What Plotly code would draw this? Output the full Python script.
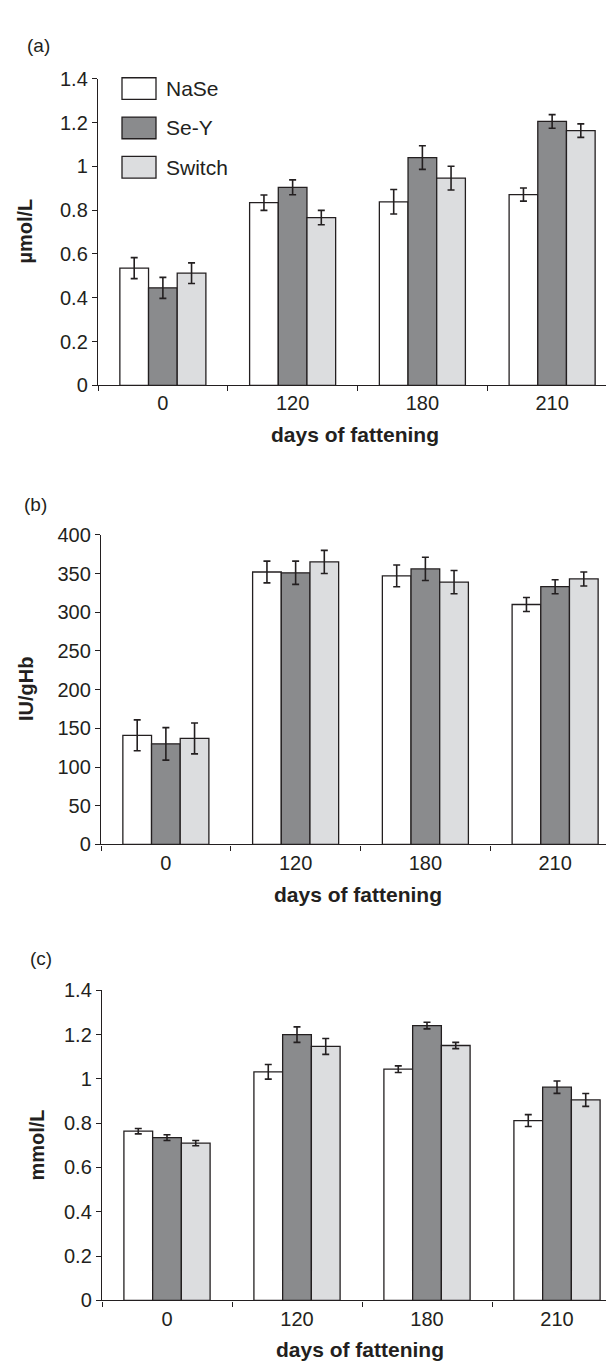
import plotly.graph_objects as go

W, H = 614, 1365

days = ["0", "120", "180", "210"]
groups = ["NaSe", "Se-Y", "Switch"]

# Panel (a) µmol/L
a_nase = [0.535, 0.834, 0.838, 0.871]
a_sey = [0.445, 0.904, 1.040, 1.205]
a_switch = [0.512, 0.766, 0.946, 1.163]
a_nase_err = [0.048, 0.035, 0.056, 0.030]
a_sey_err = [0.048, 0.034, 0.054, 0.031]
a_switch_err = [0.047, 0.033, 0.054, 0.031]

# Panel (b) IU/gHb
b_nase = [141, 352, 347, 310]
b_sey = [130, 351, 356, 333]
b_switch = [137, 365, 339, 343]
b_nase_err = [20, 14, 14, 9]
b_sey_err = [21, 15, 15, 9]
b_switch_err = [20, 15, 15, 9]

# Panel (c) mmol/L
c_nase = [0.764, 1.032, 1.044, 0.812]
c_sey = [0.735, 1.200, 1.241, 0.963]
c_switch = [0.710, 1.147, 1.151, 0.905]
c_nase_err = [0.012, 0.033, 0.015, 0.027]
c_sey_err = [0.013, 0.035, 0.015, 0.028]
c_switch_err = [0.012, 0.036, 0.014, 0.029]

fills = {"NaSe": "#ffffff", "Se-Y": "#8a8b8d", "Switch": "#dcdddf"}
INK = "#231f20"
FONT = "Liberation Sans, Arial, sans-serif"

panels = [
    ("", [a_nase, a_sey, a_switch], [a_nase_err, a_sey_err, a_switch_err]),
    ("2", [b_nase, b_sey, b_switch], [b_nase_err, b_sey_err, b_switch_err]),
    ("3", [c_nase, c_sey, c_switch], [c_nase_err, c_sey_err, c_switch_err]),
]

fig = go.Figure()
for suf, vals, errs in panels:
    for g, v, e in zip(groups, vals, errs):
        fig.add_trace(go.Bar(
            x=days, y=v, name=g,
            xaxis="x" + suf, yaxis="y" + suf,
            marker=dict(color=fills[g], line=dict(color=INK, width=1.3)),
            error_y=dict(type="data", array=e, visible=True,
                         color=INK, thickness=1.6, width=3.5),
            showlegend=False,
        ))

def px_x(p):
    return p / W

def px_y(p):
    return 1 - p / H

tickfont = dict(family=FONT, size=20, color=INK)

def xax(x0, x1):
    return dict(domain=[px_x(x0), px_x(x1)], type="category",
                showline=True, linecolor=INK, linewidth=1.4,
                ticks="outside", ticklen=5, tickwidth=1.4, tickcolor=INK,
                tickson="boundaries", showgrid=False, zeroline=False,
                tickfont=tickfont, fixedrange=True)

def yax(y0, y1, rng, dt):
    return dict(domain=[px_y(y1), px_y(y0)], range=rng, dtick=dt,
                showline=True, linecolor=INK, linewidth=1.4,
                ticks="outside", ticklen=5, tickwidth=1.4, tickcolor=INK,
                showgrid=False, zeroline=False, tickfont=tickfont,
                fixedrange=True)

xa = xax(90, 609); xa["anchor"] = "y"
xb = xax(93, 612); xb["anchor"] = "y2"
xc = xax(94, 614); xc["anchor"] = "y3"
ya = yax(60.7, 372.3, [0, 1.4], 0.2); ya["anchor"] = "x"
yb = yax(524.3, 839, [0, 400], 50); yb["anchor"] = "x2"
yc = yax(987.3, 1302.3, [0, 1.4], 0.2); yc["anchor"] = "x3"

annotations = []

def ann(text, x, y, size=20, bold=False, angle=0, xanchor="center"):
    annotations.append(dict(
        text=("<b>%s</b>" % text) if bold else text,
        x=px_x(x), y=px_y(y), xref="paper", yref="paper",
        xanchor=xanchor, yanchor="middle", showarrow=False,
        textangle=angle, font=dict(family=FONT, size=size, color=INK)))

ann("(a)", 30, 27, size=19)
ann("(b)", 27, 493, size=19)
ann("(c)", 33, 955, size=19)
ann("µmol/L", 17, 216, bold=True, angle=-90)
ann("IU/gHb", 18, 681, bold=True, angle=-90)
ann("mmol/L", 29, 1145, bold=True, angle=-90)
ann("days of fattening", 347, 422, bold=True, size=21)
ann("days of fattening", 350, 890, bold=True, size=21)
ann("days of fattening", 352, 1352, bold=True, size=21)

shapes = []
for i, g in enumerate(groups):
    cy = 70.7 + 40 * i
    shapes.append(dict(type="rect", xref="paper", yref="paper",
                       x0=px_x(114), x1=px_x(148),
                       y0=px_y(cy + 11), y1=px_y(cy - 11),
                       fillcolor=fills[g], line=dict(color=INK, width=1.3)))
    ann(g, 156, cy, size=21, xanchor="left")

fig.update_layout(
    width=W, height=H,
    margin=dict(l=0, r=0, t=0, b=0),
    paper_bgcolor="white", plot_bgcolor="white",
    barmode="group", bargap=0.337, bargroupgap=0,
    xaxis=xa, xaxis2=xb, xaxis3=xc,
    yaxis=ya, yaxis2=yb, yaxis3=yc,
    annotations=annotations, shapes=shapes,
    font=dict(family=FONT, color=INK),
)

fig.write_html("out.html")
